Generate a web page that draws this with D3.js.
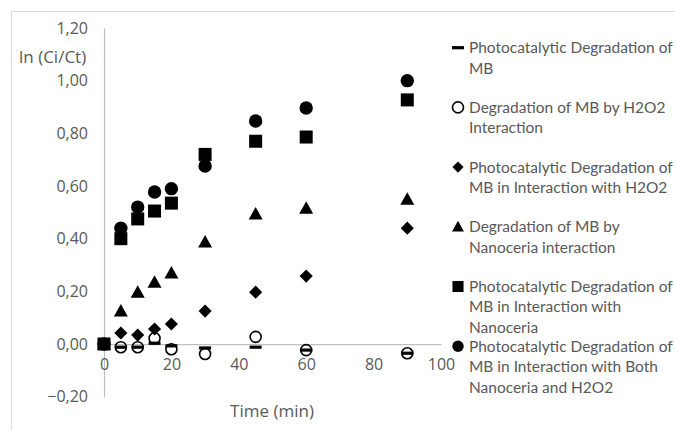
<!DOCTYPE html>
<html>
<head>
<meta charset="utf-8">
<script src="https://cdn.jsdelivr.net/npm/d3@7"></script>
<style>
  body { margin: 0; background: #fff; }
  text { font-family: "Open Sans", sans-serif; fill: #595959; }
  .legend text { font-family: Lato, "Open Sans", sans-serif; }
</style>
</head>
<body>
<div id="chart"></div>
<script>
// time points (min)
var times = [0, 5, 10, 15, 20, 30, 45, 60, 90];

// ln(Ci/Ct) values per series
var photoMB        = [0, -0.012, -0.012, 0.003, -0.007, -0.015, -0.012, -0.023, -0.035];
var h2o2MB         = [0, -0.012, -0.012, 0.022, -0.02, -0.038, 0.027, -0.023, -0.035];
var photoH2O2      = [0, 0.042, 0.034, 0.057, 0.076, 0.125, 0.197, 0.258, 0.44];
var nanoceria      = [0, 0.125, 0.197, 0.235, 0.27, 0.387, 0.494, 0.516, 0.55];
var photoNanoceria = [0, 0.40, 0.475, 0.505, 0.535, 0.72, 0.77, 0.786, 0.927];
var photoBoth      = [0, 0.44, 0.52, 0.577, 0.59, 0.676, 0.847, 0.896, 1.0];

var seriesNames = [
  "Photocatalytic Degradation of MB",
  "Degradation of MB by H2O2 Interaction",
  "Photocatalytic Degradation of MB in Interaction with H2O2",
  "Degradation of MB by Nanoceria interaction",
  "Photocatalytic Degradation of MB in Interaction with Nanoceria",
  "Photocatalytic Degradation of MB in Interaction with Both Nanoceria and H2O2"
];
// wrapped legend lines, as in the picture
var legendLines = [
  ["Photocatalytic Degradation of", "MB"],
  ["Degradation of MB by H2O2", "Interaction"],
  ["Photocatalytic Degradation of", "MB in Interaction with H2O2"],
  ["Degradation of MB by", "Nanoceria interaction"],
  ["Photocatalytic Degradation of", "MB in Interaction with", "Nanoceria"],
  ["Photocatalytic Degradation of", "MB in Interaction with Both", "Nanoceria and H2O2"]
];
var markers = ["dash", "open", "diamond", "triangle", "square", "circle"];

var xTicks = [0, 20, 40, 60, 80, 100];
var yTicks = [-0.2, 0, 0.2, 0.4, 0.6, 0.8, 1.0, 1.2];

var allValues = [photoMB, h2o2MB, photoH2O2, nanoceria, photoNanoceria, photoBoth];

var W = 675, H = 430;
var svg = d3.select("#chart").append("svg")
    .attr("width", W)
    .attr("height", H);

// outer frame (only top and left edges visible)
svg.append("line").attr("x1", 11).attr("x2", W).attr("y1", 11.5).attr("y2", 11.5)
    .attr("stroke", "#d9d9d9");
svg.append("line").attr("x1", 11.5).attr("x2", 11.5).attr("y1", 11).attr("y2", H)
    .attr("stroke", "#d9d9d9");

var x = d3.scaleLinear().domain([0, 100]).range([104, 441]);
var y = d3.scaleLinear().domain([-0.2, 1.2]).range([396.7, 28]);

var fmt = function(d) { return d3.format(".2f")(d).replace(".", ","); };

// y axis
var yAxis = svg.append("g")
    .attr("transform", "translate(" + x(0) + ",0)")
    .call(d3.axisLeft(y).tickValues(yTicks).tickSize(0).tickPadding(16).tickFormat(fmt));
// x axis sits on the zero line
var xAxis = svg.append("g")
    .attr("transform", "translate(0," + y(0) + ")")
    .call(d3.axisBottom(x).tickValues(xTicks).tickSize(0).tickPadding(15).tickFormat(d3.format("d")));

[yAxis, xAxis].forEach(function(a) {
  a.select(".domain").attr("stroke", "#bfbfbf").attr("stroke-width", 1.2);
  a.selectAll("text").style("font-size", "16px").attr("fill", "#595959");
});

// axis titles
svg.append("text")
    .attr("x", 19).attr("y", 63)
    .style("font-size", "17px")
    .text("ln (Ci/Ct)");
svg.append("text")
    .attr("x", 272).attr("y", 417)
    .attr("text-anchor", "middle")
    .style("font-size", "17px")
    .text("Time (min)");

// marker drawing
function drawMarker(g, type) {
  if (type === "dash") {
    g.append("rect").attr("x", -6).attr("y", -1.6).attr("width", 12).attr("height", 3.2).attr("fill", "#000");
  } else if (type === "open") {
    g.append("circle").attr("r", 5.5).attr("fill", "none").attr("stroke", "#000").attr("stroke-width", 1.6);
  } else if (type === "diamond") {
    g.append("path").attr("d", d3.symbol(d3.symbolSquare, 86)()).attr("transform", "rotate(45)").attr("fill", "#000");
  } else if (type === "triangle") {
    g.append("path").attr("d", "M0,-7L7,5.5L-7,5.5Z").attr("fill", "#000");
  } else if (type === "square") {
    g.append("rect").attr("x", -6.5).attr("y", -6.5).attr("width", 13).attr("height", 13).attr("fill", "#000");
  } else {
    g.append("circle").attr("r", 6.7).attr("fill", "#000");
  }
}

// points
allValues.forEach(function(vals, si) {
  var pts = svg.append("g").attr("class", "series").selectAll("g")
      .data(times.map(function(t, i) { return { t: t, v: vals[i] }; }))
      .enter().append("g")
      .attr("transform", function(d) { return "translate(" + x(d.t) + "," + y(d.v) + ")"; });
  pts.each(function() { drawMarker(d3.select(this), markers[si]); });
});

// legend
var legend = svg.selectAll(".legend")
    .data(seriesNames)
    .enter().append("g")
    .attr("class", "legend")
    .attr("transform", function(d, i) { return "translate(458," + (47.7 + i * 59.7) + ")"; });

legend.each(function(d, i) {
  var g = d3.select(this);
  var m = g.append("g");
  drawMarker(m, markers[i]);
  if (markers[i] !== "dash" && markers[i] !== "open") m.attr("transform", "scale(0.85)");
  g.selectAll("text").data(legendLines[i]).enter().append("text")
      .attr("x", 11)
      .attr("y", function(l, j) { return j * 20.5; })
      .attr("dy", "0.35em")
      .style("font-size", "16px")
      .text(function(l) { return l; });
});

// fit legend font so the longest line is as wide as in the picture (~204px)
var probe = legend.select("text").node();
var fitSize = 16 * 204 / probe.getComputedTextLength();
legend.selectAll("text").style("font-size", fitSize + "px");
</script>
</body>
</html>
